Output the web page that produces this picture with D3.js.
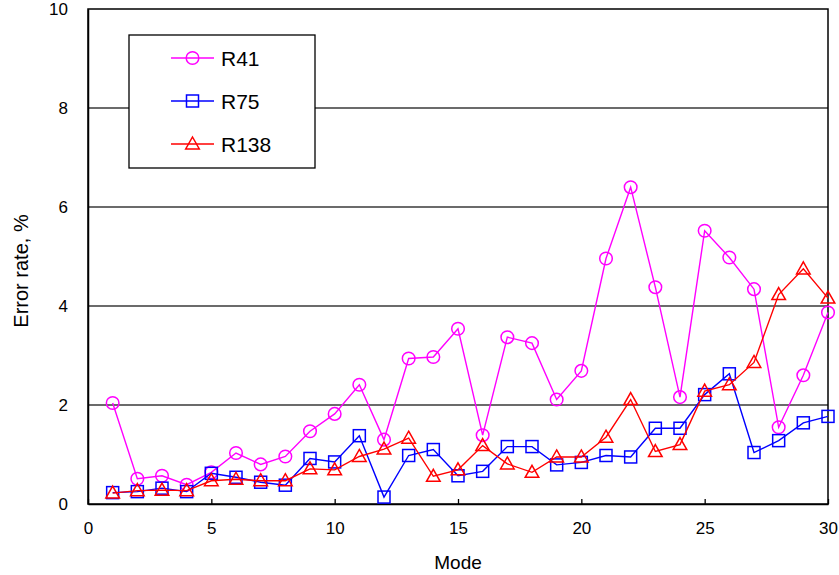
<!DOCTYPE html>
<html>
<head>
<meta charset="utf-8">
<title>error rate by mode</title>
<script src="https://d3js.org/d3.v7.min.js"></script>
<style>
  body { margin: 0; background: #fff; }
  text { font-family: "Liberation Sans", Arial, sans-serif; fill: #000; }
</style>
</head>
<body>
<script>
var modes = d3.range(1, 31);
var r41 = [2.04, 0.51, 0.57, 0.39, 0.64, 1.03, 0.80, 0.96, 1.47, 1.82,
           2.41, 1.30, 2.94, 2.97, 3.54, 1.39, 3.37, 3.25, 2.11, 2.69,
           4.96, 6.40, 4.38, 2.16, 5.52, 4.98, 4.34, 1.55, 2.60, 3.87];
var r75 = [0.23, 0.25, 0.32, 0.25, 0.62, 0.54, 0.44, 0.38, 0.92, 0.85,
           1.38, 0.14, 0.98, 1.10, 0.57, 0.66, 1.16, 1.16, 0.79, 0.84,
           0.98, 0.95, 1.53, 1.53, 2.21, 2.63, 1.04, 1.28, 1.64, 1.77];
var r138 = [0.22, 0.27, 0.28, 0.27, 0.47, 0.50, 0.47, 0.47, 0.71, 0.69,
            0.96, 1.11, 1.33, 0.56, 0.69, 1.18, 0.81, 0.64, 0.95, 0.95,
            1.35, 2.11, 1.06, 1.20, 2.28, 2.41, 2.86, 4.23, 4.75, 4.16];
var xTicks = [0, 5, 10, 15, 20, 25, 30];
var yTicks = [0, 2, 4, 6, 8, 10];

var series = [
  {name: "R41", values: r41, color: "#ff00ff", shape: "circle"},
  {name: "R75", values: r75, color: "#0000ff", shape: "square"},
  {name: "R138", values: r138, color: "#ff0000", shape: "triangle"}
];

var width = 839, height = 575;
var margin = {top: 9, right: 11, bottom: 71, left: 88};

var svg = d3.select("body").append("svg")
    .attr("width", width)
    .attr("height", height);

var x = d3.scaleLinear().domain([0, 30]).range([margin.left, width - margin.right]);
var y = d3.scaleLinear().domain([0, 10]).range([height - margin.bottom, margin.top]);

// gridlines
svg.append("g").selectAll("line")
    .data(yTicks.filter(function(d){ return d > 0 && d < 10; }))
    .enter().append("line")
    .attr("x1", x(0)).attr("x2", x(30))
    .attr("y1", function(d){ return y(d); })
    .attr("y2", function(d){ return y(d); })
    .attr("stroke", "#3a3a3a")
    .attr("stroke-width", 1.4);

// frame
svg.append("rect")
    .attr("x", x(0)).attr("y", y(10))
    .attr("width", x(30) - x(0)).attr("height", y(0) - y(10))
    .attr("fill", "none").attr("stroke", "#000").attr("stroke-width", 1.5);

// x axis
var xAxis = svg.append("g")
    .attr("transform", "translate(0," + y(0) + ")")
    .call(d3.axisBottom(x).tickValues(xTicks).tickSizeInner(-5).tickSizeOuter(0).tickPadding(18));
xAxis.select(".domain").attr("stroke-width", 1.5);
xAxis.selectAll(".tick line").attr("stroke-width", 1.3);
xAxis.selectAll("text").attr("font-size", 17).style("font-family", "'Liberation Sans', Arial, sans-serif");

// y axis
var yAxis = svg.append("g")
    .attr("transform", "translate(" + x(0) + ",0)")
    .call(d3.axisLeft(y).tickValues(yTicks).tickSize(0).tickPadding(20));
yAxis.select(".domain").attr("stroke-width", 1.5);
yAxis.selectAll("text").attr("font-size", 17).style("font-family", "'Liberation Sans', Arial, sans-serif");

// axis titles
svg.append("text")
    .attr("x", 458).attr("y", 569)
    .attr("text-anchor", "middle").attr("font-size", 19)
    .text("Mode");
svg.append("text")
    .attr("transform", "translate(28,271) rotate(-90)")
    .attr("text-anchor", "middle").attr("font-size", 20)
    .text("Error rate, %");

function drawMarker(g, shape, color) {
  if (shape === "circle") {
    g.append("circle").attr("r", 6.3);
  } else if (shape === "square") {
    g.append("rect").attr("x", -6).attr("y", -6).attr("width", 12).attr("height", 12);
  } else {
    g.append("path").attr("d", "M0,-7L6.8,5L-6.8,5Z");
  }
  g.selectAll("*").attr("fill", "none").attr("stroke", color).attr("stroke-width", 1.5);
}

var line = d3.line()
    .x(function(d, i){ return x(modes[i]); })
    .y(function(d){ return y(d); });

series.forEach(function(s) {
  var g = svg.append("g");
  g.append("path")
      .datum(s.values)
      .attr("d", line)
      .attr("fill", "none")
      .attr("stroke", s.color)
      .attr("stroke-width", 1.4);
  g.selectAll(".m").data(s.values).enter().append("g")
      .attr("transform", function(d, i){ return "translate(" + x(modes[i]) + "," + y(d) + ")"; })
      .each(function(){ drawMarker(d3.select(this), s.shape, s.color); });
});

// legend
var legend = svg.append("g");
legend.append("rect")
    .attr("x", 129).attr("y", 35).attr("width", 186).attr("height", 133)
    .attr("fill", "#fff").attr("stroke", "#000").attr("stroke-width", 1.3);
series.forEach(function(s, i) {
  var cy = 58 + i * 43;
  var g = legend.append("g");
  g.append("line").attr("x1", 171).attr("x2", 214).attr("y1", cy).attr("y2", cy)
      .attr("stroke", s.color).attr("stroke-width", 1.4);
  var m = g.append("g").attr("transform", "translate(192.5," + cy + ")");
  drawMarker(m, s.shape, s.color);
  g.append("text").attr("x", 221).attr("y", cy).attr("dy", "0.36em")
      .attr("font-size", 21).text(s.name);
});
</script>
</body>
</html>
